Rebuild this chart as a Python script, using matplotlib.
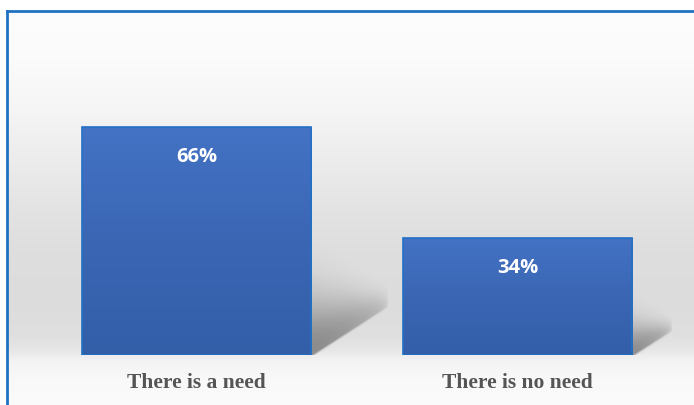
import numpy as np
import matplotlib
matplotlib.use("Agg")
import matplotlib.pyplot as plt
from matplotlib.colors import LinearSegmentedColormap
from matplotlib.lines import Line2D

# Survey result
categories = ["There is a need", "There is no need"]
shares = [66, 34]
value_labels = ["66%", "34%"]

W, H, DPI = 694, 405, 100
fig = plt.figure(figsize=(W / DPI, H / DPI), dpi=DPI, facecolor="white")

# ---- background: soft vertical grey gradient inside the frame ----
bg = fig.add_axes([0, 0, 1, 1])
bg.set_axis_off()
bg.set_xlim(0, W)
bg.set_ylim(H, 0)
ys = np.arange(H)
stops_y = [0, 60, 110, 160, 210, 250, 300, 335, 350, 360, 380, 405]
stops_v = [253, 251, 245, 236, 227, 222, 220, 223, 231, 243, 249, 251]
col = np.interp(ys, stops_y, stops_v) / 255.0
grad = np.repeat(col[:, None], W, axis=1)
bg.imshow(np.dstack([grad, grad, grad]), extent=[0, W, H, 0], aspect="auto",
          interpolation="bilinear", zorder=0)
# white margin outside the frame
bg.fill_between([0, W], 0, 11, color="white", zorder=1, lw=0)
bg.fill_between([0, 6.5], 0, H, color="white", zorder=1, lw=0)
frame_col = "#1f72c2"
bg.add_line(Line2D([7, 7], [11, H + 2], color=frame_col, lw=2.0, zorder=2,
                   solid_capstyle="projecting"))
bg.add_line(Line2D([7, W + 2], [11, 11], color=frame_col, lw=2.0, zorder=2,
                   solid_capstyle="projecting"))

# ---- main chart axes ----
ax_l, ax_r = 36, 678
ax_b, ax_t = 355, 79
ymax = 80
ax = fig.add_axes([ax_l / W, (H - ax_b) / H, (ax_r - ax_l) / W, (ax_b - ax_t) / H])
ax.patch.set_alpha(0)
ax.set_xlim(-0.5, len(categories) - 0.5)
ax.set_ylim(0, ymax)
for s in ax.spines.values():
    s.set_visible(False)
ax.set_yticks([])
ax.tick_params(axis="x", length=0, pad=13)
x = np.arange(len(categories))
ax.set_xticks(x)
ax.set_xticklabels(categories, family="Liberation Serif", fontweight="bold",
                   fontsize=15.5, color="#555555")

bar_w = 0.715
bars = ax.bar(x, shares, width=bar_w, color="none", edgecolor="#2270c4",
              linewidth=1.2, zorder=4)

# bar fill gradient
bar_cmap = LinearSegmentedColormap.from_list("barfill", ["#335ea8", "#3a66b4", "#4472c4"])
px_per_unit_x = (ax_r - ax_l) / (len(categories))
px_per_unit_y = (ax_b - ax_t) / ymax
for rect in bars:
    x0, h = rect.get_x(), rect.get_height()
    w = rect.get_width()
    g = np.linspace(1, 0, 200)[:, None]
    im = ax.imshow(g, cmap=bar_cmap, vmin=0, vmax=1, aspect="auto",
                   extent=[x0, x0 + w, 0, h], zorder=3, interpolation="bilinear")
    im.set_clip_path(rect)

    # floor shadow cast to the right of the bar
    hp = h * px_per_unit_y
    dx_px, dy_px = 0.34 * hp, 0.22 * hp
    top_px = 0.26 * hp
    sw = int(dx_px + 14)
    sh = int(top_px * 1.7 + 12)
    xx, yy = np.meshgrid(np.arange(sw) + 0.5, np.arange(sh) + 0.5)
    # yy measured upward from the bar base
    t = np.clip(xx / dx_px, 0, 1.2)
    tc = np.minimum(t, 1.0)
    y_low = dy_px * tc
    d = yy - y_low
    thick = (top_px - y_low) * 0.85 + 4
    up = np.exp(-(np.clip(d, 0, None) / thick) ** 2)
    down = np.exp(-(np.clip(-d, 0, None) / 2.0) ** 2)
    fade = np.clip(1 - t, 0, 1) ** 0.45
    alpha = 0.40 * up * down * fade
    rgba = np.zeros((sh, sw, 4))
    rgba[..., 3] = alpha
    xr = x0 + w
    ax.imshow(rgba[::-1], extent=[xr, xr + sw / px_per_unit_x, 0, sh / px_per_unit_y],
              aspect="auto", zorder=2, interpolation="bilinear")

ax.set_xlim(-0.5, len(categories) - 0.5)
ax.set_ylim(0, ymax)

# value labels inside the top of each bar
for xi, v, lab in zip(x, shares, value_labels):
    ax.annotate(lab, (xi, v), xytext=(0, -30), textcoords="offset pixels",
                ha="center", va="center", color="white", fontsize=14.5,
                fontweight="bold", family="Open Sans", zorder=5)

fig.savefig("out.png", dpi=DPI, facecolor="white")
